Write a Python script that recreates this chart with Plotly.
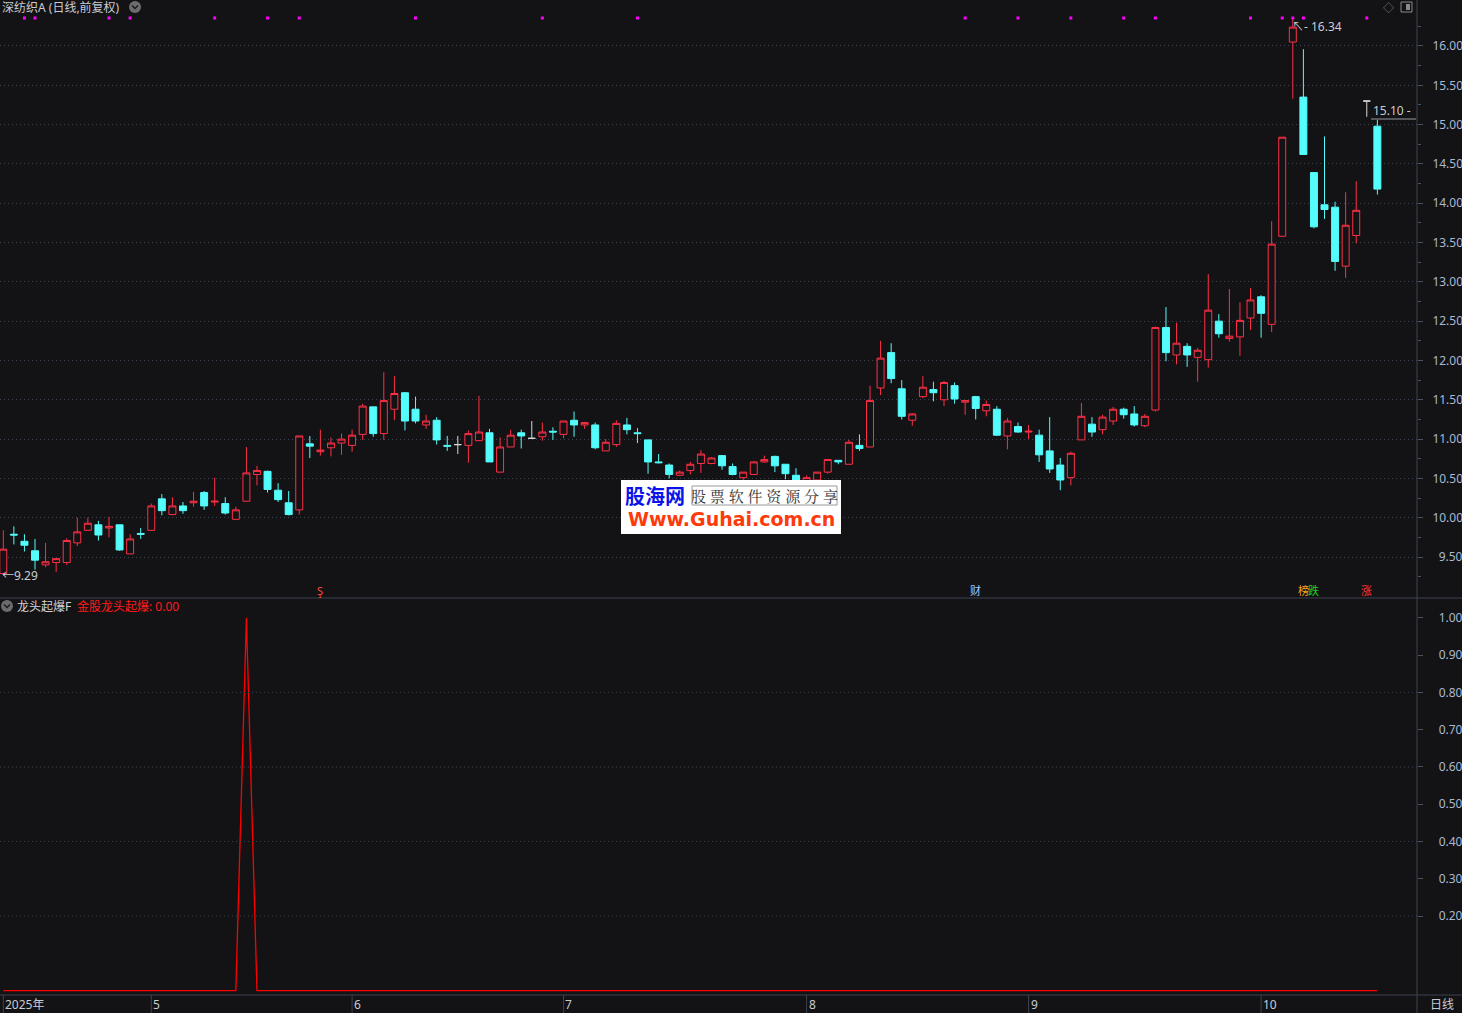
import plotly.graph_objects as go

# ---------------- data ----------------
x_idx = list(range(131))  # trading-day positions (2025-04-11 .. 2025-10)

opens = [9.29, 9.79, 9.70, 9.58, 9.40, 9.43, 9.43, 9.68, 9.84, 9.91,
         9.87, 9.91, 9.54, 9.80, 9.84, 10.24, 10.04, 10.15, 10.19, 10.32,
         10.20, 10.18, 9.98, 10.21, 10.55, 10.59, 10.35, 10.19, 10.10, 10.94,
         10.84, 10.89, 10.95, 10.92, 11.06, 11.41, 11.07, 11.38, 11.59, 11.38,
         11.18, 11.24, 10.92, 10.93, 10.92, 10.98, 11.08, 10.58, 10.90, 11.08,
         11.01, 11.03, 11.10, 11.06, 11.24, 11.18, 11.18, 10.85, 10.93, 11.18,
         11.08, 10.99, 10.71, 10.67, 10.54, 10.60, 10.69, 10.69, 10.79, 10.65,
         10.51, 10.55, 10.71, 10.78, 10.68, 10.54, 10.47, 10.48, 10.58, 10.73,
         10.68, 10.92, 10.90, 11.65, 12.10, 11.64, 11.24, 11.54, 11.63, 11.50,
         11.68, 11.47, 11.54, 11.36, 11.38, 11.04, 11.16, 11.09, 11.05, 10.85,
         10.67, 10.51, 10.99, 11.19, 11.12, 11.23, 11.38, 11.32, 11.17, 11.37,
         12.42, 12.07, 12.18, 12.04, 12.01, 12.50, 12.28, 12.30, 12.54, 12.81,
         12.46, 13.58, 16.05, 15.35, 14.39, 13.98, 13.95, 13.20, 13.59, 15.30,
         14.98]
highs = [9.84, 9.89, 9.79, 9.73, 9.68, 9.48, 9.74, 10.00, 10.00, 9.96,
         10.01, 9.91, 9.79, 9.87, 10.18, 10.30, 10.26, 10.20, 10.33, 10.34,
         10.51, 10.26, 10.14, 10.90, 10.66, 10.60, 10.44, 10.34, 11.04, 11.04,
         11.12, 11.02, 11.07, 11.12, 11.45, 11.41, 11.85, 11.80, 11.60, 11.54,
         11.31, 11.28, 11.04, 11.04, 11.11, 11.55, 11.13, 11.02, 11.12, 11.12,
         11.23, 11.21, 11.15, 11.23, 11.35, 11.22, 11.21, 11.00, 11.24, 11.27,
         11.14, 10.99, 10.81, 10.69, 10.60, 10.71, 10.86, 10.77, 10.79, 10.69,
         10.58, 10.72, 10.79, 10.79, 10.68, 10.63, 10.54, 10.58, 10.74, 10.73,
         10.99, 11.06, 11.68, 12.25, 12.22, 11.75, 11.33, 11.80, 11.73, 11.74,
         11.72, 11.49, 11.55, 11.49, 11.42, 11.27, 11.21, 11.18, 11.12, 11.28,
         10.76, 10.84, 11.46, 11.28, 11.31, 11.41, 11.40, 11.42, 11.32, 12.43,
         12.68, 12.48, 12.22, 12.16, 13.10, 12.59, 12.91, 12.74, 12.92, 12.83,
         13.77, 14.84, 16.34, 15.96, 14.39, 14.85, 14.02, 14.14, 14.28, 15.30,
         15.06]
lows = [9.29, 9.66, 9.57, 9.34, 9.37, 9.31, 9.40, 9.64, 9.84, 9.71,
        9.75, 9.58, 9.54, 9.73, 9.84, 10.03, 10.04, 10.05, 10.14, 10.10,
        10.15, 10.04, 9.98, 10.21, 10.41, 10.32, 10.20, 10.03, 10.04, 10.76,
        10.79, 10.78, 10.80, 10.84, 10.99, 11.03, 10.99, 11.24, 11.11, 11.20,
        11.13, 10.93, 10.85, 10.81, 10.70, 10.98, 10.71, 10.58, 10.90, 10.88,
        11.01, 10.98, 10.99, 11.01, 11.03, 11.13, 10.87, 10.85, 10.90, 11.06,
        10.95, 10.56, 10.69, 10.50, 10.53, 10.55, 10.57, 10.68, 10.61, 10.54,
        10.48, 10.55, 10.70, 10.58, 10.49, 10.45, 10.44, 10.45, 10.56, 10.68,
        10.68, 10.85, 10.90, 11.56, 11.71, 11.25, 11.17, 11.52, 11.48, 11.42,
        11.45, 11.31, 11.25, 11.29, 11.04, 10.87, 11.08, 11.00, 10.71, 10.57,
        10.35, 10.41, 10.99, 11.03, 11.06, 11.18, 11.26, 11.16, 11.15, 11.35,
        11.99, 11.95, 11.92, 11.73, 11.91, 12.29, 12.24, 12.06, 12.39, 12.29,
        12.36, 13.58, 15.33, 14.62, 13.68, 13.80, 13.14, 13.05, 13.49, 15.10,
        14.11]
closes = [9.60, 9.78, 9.65, 9.46, 9.44, 9.48, 9.71, 9.82, 9.93, 9.78,
          9.89, 9.59, 9.73, 9.79, 10.15, 10.09, 10.15, 10.09, 10.21, 10.15,
          10.21, 10.06, 10.10, 10.57, 10.60, 10.36, 10.23, 10.04, 11.04, 10.91,
          10.86, 10.95, 11.00, 11.05, 11.42, 11.07, 11.49, 11.58, 11.23, 11.23,
          11.23, 10.99, 10.91, 10.93, 11.07, 11.09, 10.71, 10.90, 11.05, 11.04,
          11.01, 11.09, 11.09, 11.23, 11.18, 11.21, 10.89, 10.96, 11.20, 11.12,
          11.07, 10.71, 10.70, 10.55, 10.58, 10.68, 10.81, 10.76, 10.66, 10.55,
          10.58, 10.71, 10.74, 10.66, 10.56, 10.48, 10.51, 10.58, 10.74, 10.71,
          10.96, 10.88, 11.49, 12.03, 11.77, 11.29, 11.32, 11.66, 11.59, 11.72,
          11.51, 11.49, 11.39, 11.44, 11.05, 11.23, 11.09, 11.10, 10.80, 10.62,
          10.48, 10.82, 11.29, 11.09, 11.28, 11.38, 11.31, 11.18, 11.29, 12.42,
          12.10, 12.22, 12.07, 12.13, 12.64, 12.34, 12.31, 12.51, 12.77, 12.60,
          13.48, 14.84, 16.24, 14.62, 13.70, 13.92, 13.26, 13.72, 13.91, 15.30,
          14.18]

# indicator "金股龙头起爆"
burst = [0, 0, 0, 0, 0, 0, 0, 0, 0, 0, 0, 0, 0, 0, 0, 0, 0, 0, 0, 0,
         0, 0, 0, 1.0, 0, 0, 0, 0, 0, 0, 0, 0, 0, 0, 0, 0, 0, 0, 0, 0,
         0, 0, 0, 0, 0, 0, 0, 0, 0, 0, 0, 0, 0, 0, 0, 0, 0, 0, 0, 0,
         0, 0, 0, 0, 0, 0, 0, 0, 0, 0, 0, 0, 0, 0, 0, 0, 0, 0, 0, 0,
         0, 0, 0, 0, 0, 0, 0, 0, 0, 0, 0, 0, 0, 0, 0, 0, 0, 0, 0, 0,
         0, 0, 0, 0, 0, 0, 0, 0, 0, 0, 0, 0, 0, 0, 0, 0, 0, 0, 0, 0,
         0, 0, 0, 0, 0, 0, 0, 0, 0, 0, 0]

signal_idx = [2, 3, 10, 12, 20, 25, 28, 39, 51, 60, 91, 96, 101, 106, 109,
              118, 121, 122, 123, 129]

month_idx = [0, 14, 33, 53, 76, 97, 119]
month_txt = ['2025年', '5', '6', '7', '8', '9', '10']

price_ticks = [9.5, 10.0, 10.5, 11.0, 11.5, 12.0, 12.5, 13.0, 13.5, 14.0,
               14.5, 15.0, 15.5, 16.0]
ind_ticks = [0.2, 0.3, 0.4, 0.5, 0.6, 0.7, 0.8, 0.9, 1.0]
ind_grid = [0.2, 0.4, 0.6, 0.8]

events = [(30, 'Ş', '#ff4a3a'), (92, '财', '#9ec8ff'), (123, '榜', '#ffa020'),
          (124, '跌', '#20d020'), (129, '涨', '#ff3838')]

# ---------------- style ----------------
BG = '#131215'
RED = '#ff3046'
CYAN = '#54fcfc'
FLAT = '#d8d8d8'
AX = '#3b404d'
GRID = '#3f4452'
TXT = '#c8ccd4'
TICK = '#a9bad2'
FONT = 'Noto Sans, Noto Sans CJK SC, sans-serif'

W, H = 1462, 1013
PW, PH = 1417, 995          # plot area in pixels
Y_MIN, Y_MAX = 8.979, 16.585
Y2_MIN, Y2_MAX = -0.012, 1.048
X_MIN, X_MAX = -0.312, 133.75


def px(xp):
    return xp / PW


def py(yp):
    return 1 - yp / PH


fig = go.Figure()


def add_candles(sel, line_color, fill_color):
    fig.add_trace(go.Candlestick(
        x=[x_idx[i] for i in sel], open=[opens[i] for i in sel],
        high=[highs[i] for i in sel], low=[lows[i] for i in sel],
        close=[closes[i] for i in sel],
        increasing=dict(line=dict(color=line_color, width=1), fillcolor=fill_color),
        decreasing=dict(line=dict(color=line_color, width=1), fillcolor=fill_color),
        whiskerwidth=0, showlegend=False, hoverinfo='skip',
        xaxis='x', yaxis='y'))


up = [i for i in range(len(x_idx)) if closes[i] > opens[i]]
down = [i for i in range(len(x_idx)) if closes[i] < opens[i]]
flat = [i for i in range(len(x_idx)) if closes[i] == opens[i]]
add_candles(up, RED, BG)
add_candles(down, CYAN, CYAN)
add_candles(flat, FLAT, FLAT)

sig_y = Y_MAX - 18 / 598 * (Y_MAX - Y_MIN)
fig.add_trace(go.Scatter(x=signal_idx, y=[sig_y] * len(signal_idx), mode='markers',
                         marker=dict(symbol='square', size=3, color='#ff00ff',
                                     line=dict(width=0)),
                         showlegend=False, hoverinfo='skip', xaxis='x', yaxis='y'))

fig.add_trace(go.Scatter(x=x_idx, y=burst, mode='lines',
                         line=dict(color='#ff0000', width=1.3),
                         showlegend=False, hoverinfo='skip', xaxis='x2', yaxis='y2'))

annotations = []
shapes = []


def text(x, y, s, color=TXT, size=12, xanchor='left', yanchor='middle',
         xref='paper', yref='paper', family=FONT, **kw):
    annotations.append(dict(x=x, y=y, text=s, xref=xref, yref=yref, showarrow=False,
                            xanchor=xanchor, yanchor=yanchor, borderpad=0,
                            font=dict(color=color, size=size, family=family), **kw))


def line(x0, y0, x1, y1, color=AX, width=1, dash=None, xref='paper', yref='paper'):
    d = dict(type='line', x0=x0, y0=y0, x1=x1, y1=y1, xref=xref, yref=yref,
             line=dict(color=color, width=width), layer='above')
    if dash:
        d['line']['dash'] = dash
    shapes.append(d)


# titles
text(px(1), py(7.5), '深纺织A (日线,前复权)', color=TXT, size=12)
shapes.append(dict(type='circle', xref='paper', yref='paper', x0=px(129), x1=px(141),
                   y0=py(1), y1=py(13), fillcolor='#6c6c70', line=dict(width=0)))
shapes.append(dict(type='path', xref='paper', yref='paper',
                   path=f'M {px(132)},{py(5.5)} L {px(135)},{py(8.5)} L {px(138)},{py(5.5)}',
                   line=dict(color='#1c1c1e', width=1.5)))
shapes.append(dict(type='circle', xref='paper', yref='paper', x0=px(1), x1=px(13),
                   y0=py(600), y1=py(612), fillcolor='#6c6c70', line=dict(width=0)))
shapes.append(dict(type='path', xref='paper', yref='paper',
                   path=f'M {px(4)},{py(604.5)} L {px(7)},{py(607.5)} L {px(10)},{py(604.5)}',
                   line=dict(color='#1c1c1e', width=1.5)))
text(px(16), py(606), '龙头起爆F', color='#d4d4d8', size=12)
text(px(76), py(606), '金股龙头起爆: 0.00', color='#ff1a1a', size=12)

# top-right icons
text(px(1388), py(7.5), '◇', color='#8a8a8e', size=11, xanchor='center')
shapes.append(dict(type='rect', xref='paper', yref='paper', x0=px(1401), x1=px(1412),
                   y0=py(2), y1=py(12), line=dict(color='#8a8a8e', width=1)))
shapes.append(dict(type='rect', xref='paper', yref='paper', x0=px(1406), x1=px(1410),
                   y0=py(4), y1=py(10), fillcolor='#8a8a8e', line=dict(width=0)))

# price labels
text(0, lows[0], '←9.29', color=TXT, size=12, xref='x', yref='y', xshift=-2, yshift=-2)
text(122, highs[122], '↖‑ 16.34', color=TXT, size=12, xref='x', yref='y',
     yanchor='top', xshift=-2, yshift=2)
text(px(1372), py(110), '15.10 -', color=TXT, size=12)
line(px(1371), py(119), px(1416), py(119), color='#9a9aa0')

# event markers
for i, s, c in events:
    text(i, py(590), s, color=c, size=11, xref='x', xanchor='center')

# watermark
shapes.append(dict(type='rect', xref='paper', yref='paper', x0=px(621), x1=px(841),
                   y0=py(480), y1=py(534), fillcolor='#ffffff', line=dict(width=0),
                   layer='above'))
shapes.append(dict(type='rect', xref='paper', yref='paper', x0=px(692), x1=px(837),
                   y0=py(486), y1=py(505), fillcolor='#ffffff',
                   line=dict(color='#9a9a9a', width=1), layer='above'))
text(px(624), py(495), '<b>股海网</b>', color='#0a14e8', size=20,
     family='Noto Sans CJK SC')
text(px(764.5), py(495.5), '股 票 软 件 资 源 分 享', color='#333333', size=15,
     xanchor='center', family='Noto Serif CJK SC, Noto Sans CJK SC')
text(px(731), py(518.5), '<b>Www.Guhai.com.cn</b>', color='#ff3a0a', size=19,
     xanchor='center', family='DejaVu Sans')

# panel separators / axis lines
line(0, py(598), px(W), py(598), color='#3d4250')
line(0, py(995), px(W), py(995), color='#3d4250')
line(px(1417), py(0), px(1417), py(H), color='#3d4250')

# lower grid lines
for g in ind_grid:
    line(0, g, 1, g, color=GRID, dash='1px,3px', yref='y2')

# x-axis labels
for i, s in zip(month_idx, month_txt):
    line(i, py(995), i, py(H), color='#3d4250', xref='x')
    text(i, py(1004.5), s, color=TXT, size=12, xref='x', xshift=1)
text(px(1429), py(1004.5), '日线', color=TXT, size=12)

fig.update_layout(
    width=W, height=H,
    margin=dict(l=0, r=W - PW, t=0, b=H - PH, pad=0),
    paper_bgcolor=BG, plot_bgcolor=BG,
    font=dict(family=FONT, size=12, color=TXT),
    showlegend=False,
    boxgap=0.34, boxgroupgap=0,
    xaxis=dict(domain=[0, 1], range=[X_MIN, X_MAX], anchor='y', showticklabels=False,
               showgrid=False, zeroline=False, showline=False, ticks='',
               rangeslider=dict(visible=False), fixedrange=True),
    xaxis2=dict(domain=[0, 1], range=[X_MIN, X_MAX], anchor='y2', matches='x',
                showticklabels=False, showgrid=False, zeroline=False, showline=False,
                ticks='', fixedrange=True),
    yaxis=dict(domain=[py(598), 1], range=[Y_MIN, Y_MAX], anchor='x', side='right',
               tickmode='array', tickvals=price_ticks,
               ticktext=[('\u00a0\u00a0' if v < 10 else '') + f'{v:.2f}' for v in price_ticks],
               ticks='outside', ticklen=5, tickcolor='#4d5262', ticklabelstandoff=7,
               tickfont=dict(color=TICK, size=12, family='Noto Sans'),
               minor=dict(tickmode='array',
                          tickvals=[v + 0.25 for v in price_ticks] + [9.25],
                          ticks='outside', ticklen=3, tickcolor='#4d5262', showgrid=False),
               showgrid=True, gridcolor=GRID, griddash='1px,3px', gridwidth=1,
               zeroline=False, showline=False, fixedrange=True),
    yaxis2=dict(domain=[0, py(600)], range=[Y2_MIN, Y2_MAX], anchor='x2', side='right',
                tickmode='array', tickvals=ind_ticks,
                ticktext=['\u00a0\u00a0' + f'{v:.2f}' for v in ind_ticks],
                ticks='outside', ticklen=5, tickcolor='#4d5262', ticklabelstandoff=7,
                tickfont=dict(color=TICK, size=12, family='Noto Sans'),
                showgrid=False, zeroline=False, showline=False, fixedrange=True),
    annotations=annotations,
    shapes=shapes,
)

fig.write_html("out.html", config={'displayModeBar': False},
               post_script="document.body.style.margin='0';document.body.style.overflow='hidden';")
